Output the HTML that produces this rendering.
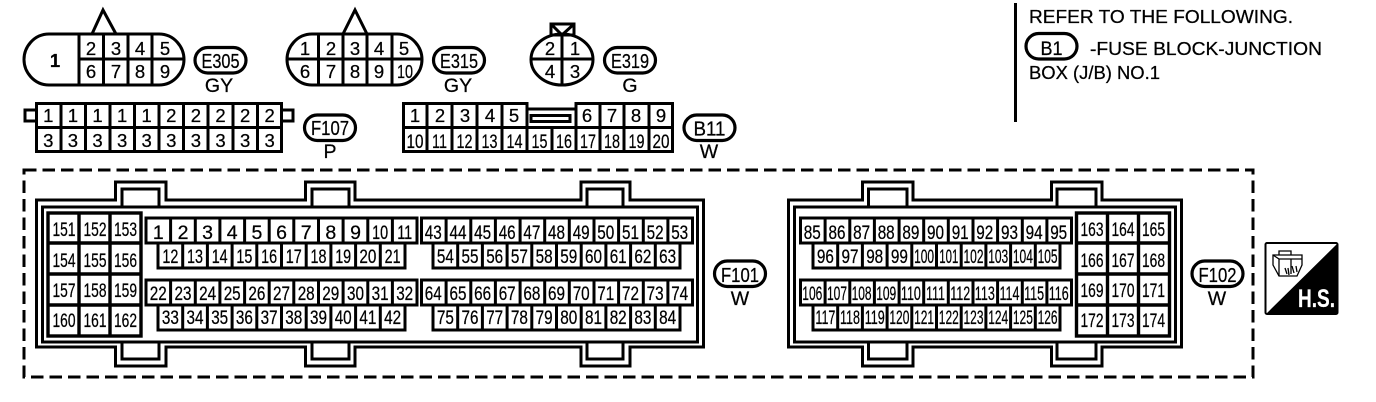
<!DOCTYPE html>
<html><head><meta charset="utf-8"><style>
html,body{margin:0;padding:0;background:#fff}
svg{display:block}
text{font-family:"Liberation Sans",sans-serif;fill:#000;text-anchor:middle;stroke:#000;stroke-width:.25px}
.d{font-size:18.5px}
.n{font-size:19.5px}
.p{font-size:20.5px}
.c{font-size:19.5px}
.l{font-size:18px;text-anchor:start}
.s{fill:none;stroke:#000;stroke-width:3}
</style></head><body>
<svg width="1376" height="402" viewBox="0 0 1376 402" xmlns="http://www.w3.org/2000/svg">
<defs>
<g id="r11"><rect width="271" height="25" fill="#fff" stroke="#000" stroke-width="3"/><path d="M24.6 0V25M49.3 0V25M73.9 0V25M98.6 0V25M123.2 0V25M147.8 0V25M172.5 0V25M197.1 0V25M221.8 0V25M246.4 0V25" class="s"/></g>
<g id="r10"><rect width="247" height="25" fill="#fff" stroke="#000" stroke-width="3"/><path d="M24.7 0V25M49.4 0V25M74.1 0V25M98.8 0V25M123.5 0V25M148.2 0V25M172.9 0V25M197.6 0V25M222.3 0V25" class="s"/></g>
<g id="bx"><rect width="93" height="123" fill="#fff" stroke="#000" stroke-width="3.4"/><path d="M0 30H93M0 61H93M0 92H93M31 0V123M62 0V123" fill="none" stroke="#000" stroke-width="3.4"/></g>
<rect id="pill" width="51" height="25.5" rx="12.7" fill="#fff" stroke="#000" stroke-width="3.2"/>
</defs>

<!-- E305 -->
<path class="s" d="M92 34L103 10L116 34"/>
<path class="s" d="M49 34H159C174 34 184 47 184 59.5C184 72 174 85 159 85H49C34 85 24 72 24 59.5C24 47 34 34 49 34Z"/>
<path class="s" d="M79 34V85M103.500 34V85M128 34V85M152 34V85M79 59H184"/>
<g class="d"><text x="55" y="67" class="d" font-weight="bold">1</text>
<text class="d" x="91" y="55">2</text><text class="d" x="116" y="55">3</text><text class="d" x="140" y="55">4</text><text class="d" x="165" y="55">5</text>
<text class="d" x="91" y="78">6</text><text class="d" x="116" y="78">7</text><text class="d" x="140" y="78">8</text><text class="d" x="165" y="78">9</text></g>
<use href="#pill" x="195" y="47.500"/><text class="p" x="220.500" y="68" textLength="38" lengthAdjust="spacingAndGlyphs">E305</text>
<text class="c" x="219" y="92">GY</text>

<!-- E315 -->
<path class="s" d="M343 34L355 10L367 34"/>
<path class="s" d="M312 34H397C412 34 422 47 422 59.500C422 72 412 85 397 85H312C297 85 287 72 287 59.500C287 47 297 34 312 34Z"/>
<path class="s" d="M318.500 34V85M343 34V85M367 34V85M392 34V85M287 59H422"/>
<text class="d" x="305" y="55">1</text><text class="d" x="331" y="55">2</text><text class="d" x="355" y="55">3</text><text class="d" x="379" y="55">4</text><text class="d" x="404" y="55">5</text>
<text class="d" x="305" y="78">6</text><text class="d" x="331" y="78">7</text><text class="d" x="355" y="78">8</text><text class="d" x="379" y="78">9</text><text class="d" x="405" y="78" textLength="16" lengthAdjust="spacingAndGlyphs">10</text>
<use href="#pill" x="433.500" y="47.500"/><text class="p" x="459" y="68" textLength="38" lengthAdjust="spacingAndGlyphs">E315</text>
<text class="c" x="458" y="92">GY</text>

<!-- E319 -->
<ellipse class="s" cx="562" cy="59.500" rx="31" ry="25.500"/>
<path class="s" d="M562 35V85M531 59H593"/>
<path class="s" d="M551 35V24H574V35M551 24L562 35L574 24M551 35H574"/>
<text class="d" x="550" y="55">2</text><text class="d" x="575" y="55">1</text><text class="d" x="550" y="78">4</text><text class="d" x="575" y="78">3</text>
<use href="#pill" x="604.500" y="47.500"/><text class="p" x="630" y="68" textLength="38" lengthAdjust="spacingAndGlyphs">E319</text>
<text class="c" x="630" y="92">G</text>

<!-- F107 -->
<path class="s" d="M36 110H25V121H36M282 110H293V121H282"/>
<rect class="s" x="36.500" y="103.500" width="245" height="48"/>
<path class="s" d="M36 127.500H282M61 103V152M85.500 103V152M110 103V152M134.500 103V152M159 103V152M183.500 103V152M208 103V152M233 103V152M257.500 103V152"/>
<text class="d" x="48.300" y="122">1</text><text class="d" x="72.900" y="122">1</text><text class="d" x="97.500" y="122">1</text><text class="d" x="122.100" y="122">1</text><text class="d" x="146.700" y="122">1</text><text class="d" x="171.300" y="122">2</text><text class="d" x="195.900" y="122">2</text><text class="d" x="220.500" y="122">2</text><text class="d" x="245.100" y="122">2</text><text class="d" x="269.700" y="122">2</text>
<text class="d" x="48.300" y="147">3</text><text class="d" x="72.900" y="147">3</text><text class="d" x="97.500" y="147">3</text><text class="d" x="122.100" y="147">3</text><text class="d" x="146.700" y="147">3</text><text class="d" x="171.300" y="147">3</text><text class="d" x="195.900" y="147">3</text><text class="d" x="220.500" y="147">3</text><text class="d" x="245.100" y="147">3</text><text class="d" x="269.700" y="147">3</text>
<use href="#pill" x="304.500" y="115"/><text class="p" x="330" y="135" textLength="38" lengthAdjust="spacingAndGlyphs">F107</text>
<text class="c" x="330" y="158">P</text>

<!-- B11 -->
<path class="s" d="M403.500 103.500H527V109H576V103.500H672.500V151.500H403.500Z"/>
<path class="s" d="M403 127.500H673M427 103V152M452 103V127M477 103V152M502 103V152M527 103V152M552 127V152M576 103V152M600 103V152M624 103V152M649 103V152M452 127V152"/>
<rect x="531" y="115.500" width="39" height="6" fill="none" stroke="#000" stroke-width="3"/>
<text class="d" x="415" y="122">1</text><text class="d" x="440" y="122">2</text><text class="d" x="465" y="122">3</text><text class="d" x="490" y="122">4</text><text class="d" x="514" y="122">5</text><text class="d" x="587" y="122">6</text><text class="d" x="612" y="122">7</text><text class="d" x="636" y="122">8</text><text class="d" x="661" y="122">9</text>
<g><text class="n" x="415" y="148" textLength="17" lengthAdjust="spacingAndGlyphs">10</text><text class="n" x="439.500" y="148" textLength="15" lengthAdjust="spacingAndGlyphs">11</text><text class="n" x="464.500" y="148" textLength="16" lengthAdjust="spacingAndGlyphs">12</text><text class="n" x="489.500" y="148" textLength="16" lengthAdjust="spacingAndGlyphs">13</text><text class="n" x="514.500" y="148" textLength="16" lengthAdjust="spacingAndGlyphs">14</text><text class="n" x="539.500" y="148" textLength="16" lengthAdjust="spacingAndGlyphs">15</text><text class="n" x="564" y="148" textLength="16" lengthAdjust="spacingAndGlyphs">16</text><text class="n" x="588" y="148" textLength="16" lengthAdjust="spacingAndGlyphs">17</text><text class="n" x="612" y="148" textLength="16" lengthAdjust="spacingAndGlyphs">18</text><text class="n" x="636.500" y="148" textLength="16" lengthAdjust="spacingAndGlyphs">19</text><text class="n" x="661" y="148" textLength="17" lengthAdjust="spacingAndGlyphs">20</text></g>
<use href="#pill" x="684" y="115"/><text class="p" x="709.500" y="135.500" textLength="32" lengthAdjust="spacingAndGlyphs">B11</text>
<text class="c" x="709" y="158">W</text>

<!-- Reference note -->
<rect x="1014" y="3" width="3" height="119" fill="#000"/>
<text class="l" x="1029" y="23" textLength="264" lengthAdjust="spacingAndGlyphs">REFER TO THE FOLLOWING.</text>
<use href="#pill" x="1026" y="33.500"/><text class="c" x="1051.500" y="55" textLength="22" lengthAdjust="spacingAndGlyphs">B1</text>
<text class="l" x="1090" y="55" textLength="232" lengthAdjust="spacingAndGlyphs">-FUSE BLOCK-JUNCTION</text>
<text class="l" x="1029" y="79" textLength="131" lengthAdjust="spacingAndGlyphs">BOX (J/B) NO.1</text>

<!-- Dashed border -->
<rect x="24" y="170" width="1229" height="207" fill="none" stroke="#000" stroke-width="3" stroke-dasharray="12.500 6"/>

<!-- F101 outline -->
<path class="s" d="M36.500 200H115.500V182H166V200H305.500V182H355V200H581V182H630V200H703.500V347H630V366H581V347H355V366H305.500V347H166V366H115.500V347H36.500Z"/>
<rect class="s" x="42.500" y="207" width="655" height="135"/>
<path class="s" d="M122 207V189H159V207M312 207V189H349V207M587 207V189H623V207M122 342V359H159V342M312 342V359H349V342M587 342V359H623V342"/>
<use href="#bx" x="48" y="213"/>
<use href="#r11" x="146" y="218"/><use href="#r10" x="158" y="243"/>
<use href="#r11" x="146" y="280"/><use href="#r10" x="158" y="305"/>
<use href="#r11" x="421.500" y="218"/><use href="#r10" x="433" y="243"/>
<use href="#r11" x="421.500" y="280"/><use href="#r10" x="433" y="305"/>

<!-- F102 outline -->
<path class="s" d="M788.500 200H862.500V182H913V200H1051.500V182H1102V200H1181.500V347H1102V366H1051.500V347H913V366H862.500V347H788.500Z"/>
<rect class="s" x="794.500" y="207" width="381" height="135"/>
<path class="s" d="M868.500 207V189H907V207M1057 207V189H1096V207M868.500 342V359H907V342M1057 342V359H1096V342"/>
<use href="#bx" x="1076.500" y="213"/>
<use href="#r11" x="800.500" y="218"/><use href="#r10" x="813" y="243"/>
<use href="#r11" x="800.500" y="280"/><use href="#r10" x="813" y="305"/>

<!-- 151-162 -->
<text class="n" x="64" y="236" textLength="23" lengthAdjust="spacingAndGlyphs">151</text><text class="n" x="95" y="236" textLength="23" lengthAdjust="spacingAndGlyphs">152</text><text class="n" x="125.500" y="236" textLength="23" lengthAdjust="spacingAndGlyphs">153</text>
<text class="n" x="64" y="267" textLength="23" lengthAdjust="spacingAndGlyphs">154</text><text class="n" x="95" y="267" textLength="23" lengthAdjust="spacingAndGlyphs">155</text><text class="n" x="125.500" y="267" textLength="23" lengthAdjust="spacingAndGlyphs">156</text>
<text class="n" x="64" y="297" textLength="23" lengthAdjust="spacingAndGlyphs">157</text><text class="n" x="95" y="297" textLength="23" lengthAdjust="spacingAndGlyphs">158</text><text class="n" x="125.500" y="297" textLength="23" lengthAdjust="spacingAndGlyphs">159</text>
<text class="n" x="64" y="327" textLength="23" lengthAdjust="spacingAndGlyphs">160</text><text class="n" x="95" y="327" textLength="23" lengthAdjust="spacingAndGlyphs">161</text><text class="n" x="125.500" y="327" textLength="23" lengthAdjust="spacingAndGlyphs">162</text>

<!-- 1-21 -->
<text class="n" x="158.300" y="239">1</text><text class="n" x="183" y="239">2</text><text class="n" x="207.600" y="239">3</text><text class="n" x="232.200" y="239">4</text><text class="n" x="256.900" y="239">5</text><text class="n" x="281.500" y="239">6</text><text class="n" x="306.200" y="239">7</text><text class="n" x="330.800" y="239">8</text><text class="n" x="355.500" y="239">9</text><text class="n" x="380.100" y="239" textLength="16" lengthAdjust="spacingAndGlyphs">10</text><text class="n" x="404.700" y="239" textLength="15" lengthAdjust="spacingAndGlyphs">11</text>
<text class="n" x="170.400" y="263" textLength="16" lengthAdjust="spacingAndGlyphs">12</text><text class="n" x="195" y="263" textLength="16" lengthAdjust="spacingAndGlyphs">13</text><text class="n" x="219.700" y="263" textLength="16" lengthAdjust="spacingAndGlyphs">14</text><text class="n" x="244.400" y="263" textLength="16" lengthAdjust="spacingAndGlyphs">15</text><text class="n" x="269.100" y="263" textLength="16" lengthAdjust="spacingAndGlyphs">16</text><text class="n" x="293.800" y="263" textLength="16" lengthAdjust="spacingAndGlyphs">17</text><text class="n" x="318.500" y="263" textLength="16" lengthAdjust="spacingAndGlyphs">18</text><text class="n" x="343.200" y="263" textLength="16" lengthAdjust="spacingAndGlyphs">19</text><text class="n" x="367.900" y="263" textLength="17" lengthAdjust="spacingAndGlyphs">20</text><text class="n" x="392.600" y="263" textLength="16" lengthAdjust="spacingAndGlyphs">21</text>
<!-- 22-42 -->
<text class="n" x="158.300" y="300" textLength="17" lengthAdjust="spacingAndGlyphs">22</text><text class="n" x="183" y="300" textLength="17" lengthAdjust="spacingAndGlyphs">23</text><text class="n" x="207.600" y="300" textLength="17" lengthAdjust="spacingAndGlyphs">24</text><text class="n" x="232.200" y="300" textLength="17" lengthAdjust="spacingAndGlyphs">25</text><text class="n" x="256.900" y="300" textLength="17" lengthAdjust="spacingAndGlyphs">26</text><text class="n" x="281.500" y="300" textLength="17" lengthAdjust="spacingAndGlyphs">27</text><text class="n" x="306.200" y="300" textLength="17" lengthAdjust="spacingAndGlyphs">28</text><text class="n" x="330.800" y="300" textLength="17" lengthAdjust="spacingAndGlyphs">29</text><text class="n" x="355.500" y="300" textLength="17" lengthAdjust="spacingAndGlyphs">30</text><text class="n" x="380.100" y="300" textLength="17" lengthAdjust="spacingAndGlyphs">31</text><text class="n" x="404.700" y="300" textLength="17" lengthAdjust="spacingAndGlyphs">32</text>
<text class="n" x="170.400" y="324" textLength="17" lengthAdjust="spacingAndGlyphs">33</text><text class="n" x="195" y="324" textLength="17" lengthAdjust="spacingAndGlyphs">34</text><text class="n" x="219.700" y="324" textLength="17" lengthAdjust="spacingAndGlyphs">35</text><text class="n" x="244.400" y="324" textLength="17" lengthAdjust="spacingAndGlyphs">36</text><text class="n" x="269.100" y="324" textLength="17" lengthAdjust="spacingAndGlyphs">37</text><text class="n" x="293.800" y="324" textLength="17" lengthAdjust="spacingAndGlyphs">38</text><text class="n" x="318.500" y="324" textLength="17" lengthAdjust="spacingAndGlyphs">39</text><text class="n" x="343.200" y="324" textLength="17" lengthAdjust="spacingAndGlyphs">40</text><text class="n" x="367.900" y="324" textLength="17" lengthAdjust="spacingAndGlyphs">41</text><text class="n" x="392.600" y="324" textLength="17" lengthAdjust="spacingAndGlyphs">42</text>
<!-- 43-63 -->
<text class="n" x="433.300" y="239" textLength="17" lengthAdjust="spacingAndGlyphs">43</text><text class="n" x="458" y="239" textLength="17" lengthAdjust="spacingAndGlyphs">44</text><text class="n" x="482.600" y="239" textLength="17" lengthAdjust="spacingAndGlyphs">45</text><text class="n" x="507.200" y="239" textLength="17" lengthAdjust="spacingAndGlyphs">46</text><text class="n" x="531.900" y="239" textLength="17" lengthAdjust="spacingAndGlyphs">47</text><text class="n" x="556.500" y="239" textLength="17" lengthAdjust="spacingAndGlyphs">48</text><text class="n" x="581.200" y="239" textLength="17" lengthAdjust="spacingAndGlyphs">49</text><text class="n" x="605.800" y="239" textLength="17" lengthAdjust="spacingAndGlyphs">50</text><text class="n" x="630.500" y="239" textLength="17" lengthAdjust="spacingAndGlyphs">51</text><text class="n" x="655.100" y="239" textLength="17" lengthAdjust="spacingAndGlyphs">52</text><text class="n" x="679.700" y="239" textLength="17" lengthAdjust="spacingAndGlyphs">53</text>
<text class="n" x="445.400" y="263" textLength="17" lengthAdjust="spacingAndGlyphs">54</text><text class="n" x="470" y="263" textLength="17" lengthAdjust="spacingAndGlyphs">55</text><text class="n" x="494.700" y="263" textLength="17" lengthAdjust="spacingAndGlyphs">56</text><text class="n" x="519.400" y="263" textLength="17" lengthAdjust="spacingAndGlyphs">57</text><text class="n" x="544.100" y="263" textLength="17" lengthAdjust="spacingAndGlyphs">58</text><text class="n" x="568.800" y="263" textLength="17" lengthAdjust="spacingAndGlyphs">59</text><text class="n" x="593.500" y="263" textLength="17" lengthAdjust="spacingAndGlyphs">60</text><text class="n" x="618.200" y="263" textLength="17" lengthAdjust="spacingAndGlyphs">61</text><text class="n" x="642.900" y="263" textLength="17" lengthAdjust="spacingAndGlyphs">62</text><text class="n" x="667.600" y="263" textLength="17" lengthAdjust="spacingAndGlyphs">63</text>
<!-- 64-84 -->
<text class="n" x="433.300" y="300" textLength="17" lengthAdjust="spacingAndGlyphs">64</text><text class="n" x="458" y="300" textLength="17" lengthAdjust="spacingAndGlyphs">65</text><text class="n" x="482.600" y="300" textLength="17" lengthAdjust="spacingAndGlyphs">66</text><text class="n" x="507.200" y="300" textLength="17" lengthAdjust="spacingAndGlyphs">67</text><text class="n" x="531.900" y="300" textLength="17" lengthAdjust="spacingAndGlyphs">68</text><text class="n" x="556.500" y="300" textLength="17" lengthAdjust="spacingAndGlyphs">69</text><text class="n" x="581.200" y="300" textLength="17" lengthAdjust="spacingAndGlyphs">70</text><text class="n" x="605.800" y="300" textLength="17" lengthAdjust="spacingAndGlyphs">71</text><text class="n" x="630.500" y="300" textLength="17" lengthAdjust="spacingAndGlyphs">72</text><text class="n" x="655.100" y="300" textLength="17" lengthAdjust="spacingAndGlyphs">73</text><text class="n" x="679.700" y="300" textLength="17" lengthAdjust="spacingAndGlyphs">74</text>
<text class="n" x="445.400" y="324" textLength="17" lengthAdjust="spacingAndGlyphs">75</text><text class="n" x="470" y="324" textLength="17" lengthAdjust="spacingAndGlyphs">76</text><text class="n" x="494.700" y="324" textLength="17" lengthAdjust="spacingAndGlyphs">77</text><text class="n" x="519.400" y="324" textLength="17" lengthAdjust="spacingAndGlyphs">78</text><text class="n" x="544.100" y="324" textLength="17" lengthAdjust="spacingAndGlyphs">79</text><text class="n" x="568.800" y="324" textLength="17" lengthAdjust="spacingAndGlyphs">80</text><text class="n" x="593.500" y="324" textLength="17" lengthAdjust="spacingAndGlyphs">81</text><text class="n" x="618.200" y="324" textLength="17" lengthAdjust="spacingAndGlyphs">82</text><text class="n" x="642.900" y="324" textLength="17" lengthAdjust="spacingAndGlyphs">83</text><text class="n" x="667.600" y="324" textLength="17" lengthAdjust="spacingAndGlyphs">84</text>
<!-- 85-105 -->
<text class="n" x="812.300" y="239" textLength="17" lengthAdjust="spacingAndGlyphs">85</text><text class="n" x="837" y="239" textLength="17" lengthAdjust="spacingAndGlyphs">86</text><text class="n" x="861.600" y="239" textLength="17" lengthAdjust="spacingAndGlyphs">87</text><text class="n" x="886.200" y="239" textLength="17" lengthAdjust="spacingAndGlyphs">88</text><text class="n" x="910.900" y="239" textLength="17" lengthAdjust="spacingAndGlyphs">89</text><text class="n" x="935.500" y="239" textLength="17" lengthAdjust="spacingAndGlyphs">90</text><text class="n" x="960.200" y="239" textLength="17" lengthAdjust="spacingAndGlyphs">91</text><text class="n" x="984.800" y="239" textLength="17" lengthAdjust="spacingAndGlyphs">92</text><text class="n" x="1009.500" y="239" textLength="17" lengthAdjust="spacingAndGlyphs">93</text><text class="n" x="1034.100" y="239" textLength="17" lengthAdjust="spacingAndGlyphs">94</text><text class="n" x="1058.700" y="239" textLength="17" lengthAdjust="spacingAndGlyphs">95</text>
<text class="n" x="825.400" y="263" textLength="17" lengthAdjust="spacingAndGlyphs">96</text><text class="n" x="850" y="263" textLength="17" lengthAdjust="spacingAndGlyphs">97</text><text class="n" x="874.700" y="263" textLength="17" lengthAdjust="spacingAndGlyphs">98</text><text class="n" x="899.400" y="263" textLength="17" lengthAdjust="spacingAndGlyphs">99</text><text class="n" x="924.100" y="263" textLength="20" lengthAdjust="spacingAndGlyphs">100</text><text class="n" x="948.800" y="263" textLength="19" lengthAdjust="spacingAndGlyphs">101</text><text class="n" x="973.500" y="263" textLength="20" lengthAdjust="spacingAndGlyphs">102</text><text class="n" x="998.200" y="263" textLength="20" lengthAdjust="spacingAndGlyphs">103</text><text class="n" x="1022.900" y="263" textLength="20" lengthAdjust="spacingAndGlyphs">104</text><text class="n" x="1047.600" y="263" textLength="20" lengthAdjust="spacingAndGlyphs">105</text>
<!-- 106-126 -->
<text class="n" x="812.300" y="300" textLength="20" lengthAdjust="spacingAndGlyphs">106</text><text class="n" x="837" y="300" textLength="20" lengthAdjust="spacingAndGlyphs">107</text><text class="n" x="861.600" y="300" textLength="20" lengthAdjust="spacingAndGlyphs">108</text><text class="n" x="886.200" y="300" textLength="20" lengthAdjust="spacingAndGlyphs">109</text><text class="n" x="910.900" y="300" textLength="20" lengthAdjust="spacingAndGlyphs">110</text><text class="n" x="935.500" y="300" textLength="19" lengthAdjust="spacingAndGlyphs">111</text><text class="n" x="960.200" y="300" textLength="20" lengthAdjust="spacingAndGlyphs">112</text><text class="n" x="984.800" y="300" textLength="20" lengthAdjust="spacingAndGlyphs">113</text><text class="n" x="1009.500" y="300" textLength="20" lengthAdjust="spacingAndGlyphs">114</text><text class="n" x="1034.100" y="300" textLength="20" lengthAdjust="spacingAndGlyphs">115</text><text class="n" x="1058.700" y="300" textLength="20" lengthAdjust="spacingAndGlyphs">116</text>
<text class="n" x="825.400" y="324" textLength="20" lengthAdjust="spacingAndGlyphs">117</text><text class="n" x="850" y="324" textLength="20" lengthAdjust="spacingAndGlyphs">118</text><text class="n" x="874.700" y="324" textLength="20" lengthAdjust="spacingAndGlyphs">119</text><text class="n" x="899.400" y="324" textLength="20" lengthAdjust="spacingAndGlyphs">120</text><text class="n" x="924.100" y="324" textLength="20" lengthAdjust="spacingAndGlyphs">121</text><text class="n" x="948.800" y="324" textLength="20" lengthAdjust="spacingAndGlyphs">122</text><text class="n" x="973.500" y="324" textLength="20" lengthAdjust="spacingAndGlyphs">123</text><text class="n" x="998.200" y="324" textLength="20" lengthAdjust="spacingAndGlyphs">124</text><text class="n" x="1022.900" y="324" textLength="20" lengthAdjust="spacingAndGlyphs">125</text><text class="n" x="1047.600" y="324" textLength="20" lengthAdjust="spacingAndGlyphs">126</text>
<!-- 163-174 -->
<text class="n" x="1092" y="236" textLength="23" lengthAdjust="spacingAndGlyphs">163</text><text class="n" x="1123" y="236" textLength="23" lengthAdjust="spacingAndGlyphs">164</text><text class="n" x="1153.500" y="236" textLength="23" lengthAdjust="spacingAndGlyphs">165</text>
<text class="n" x="1092" y="267" textLength="23" lengthAdjust="spacingAndGlyphs">166</text><text class="n" x="1123" y="267" textLength="23" lengthAdjust="spacingAndGlyphs">167</text><text class="n" x="1153.500" y="267" textLength="23" lengthAdjust="spacingAndGlyphs">168</text>
<text class="n" x="1092" y="297" textLength="23" lengthAdjust="spacingAndGlyphs">169</text><text class="n" x="1123" y="297" textLength="23" lengthAdjust="spacingAndGlyphs">170</text><text class="n" x="1153.500" y="297" textLength="23" lengthAdjust="spacingAndGlyphs">171</text>
<text class="n" x="1092" y="327" textLength="23" lengthAdjust="spacingAndGlyphs">172</text><text class="n" x="1123" y="327" textLength="23" lengthAdjust="spacingAndGlyphs">173</text><text class="n" x="1153.500" y="327" textLength="23" lengthAdjust="spacingAndGlyphs">174</text>

<!-- F101/F102 tags -->
<use href="#pill" x="714.500" y="261"/><text class="p" x="740" y="282" textLength="38" lengthAdjust="spacingAndGlyphs">F101</text>
<text class="c" x="740" y="305">W</text>
<use href="#pill" x="1192" y="261"/><text class="p" x="1217.500" y="282" textLength="38" lengthAdjust="spacingAndGlyphs">F102</text>
<text class="c" x="1217" y="305">W</text>

<!-- H.S. icon -->
<rect x="1265.500" y="243" width="72" height="71" rx="1.500" fill="#fff" stroke="#000" stroke-width="2"/>
<path d="M1338 243V314H1266Z" fill="#000"/>
<g fill="none" stroke="#000" stroke-width="1.300">
<path d="M1273 255H1302V265L1297 276H1279L1273 265Z"/>
<path d="M1279 255V251H1291V255M1273 255L1279 259H1302M1279 259V276M1291 259V274"/>
<path d="M1285 268l2 6M1288 268l1 7M1292 266l2 7M1296 266l1 6"/>
</g>
<text x="1316.500" y="307" font-size="25" font-weight="bold" style="fill:#fff;stroke:#fff" textLength="37" lengthAdjust="spacingAndGlyphs">H.S.</text>
</svg>
</body></html>
